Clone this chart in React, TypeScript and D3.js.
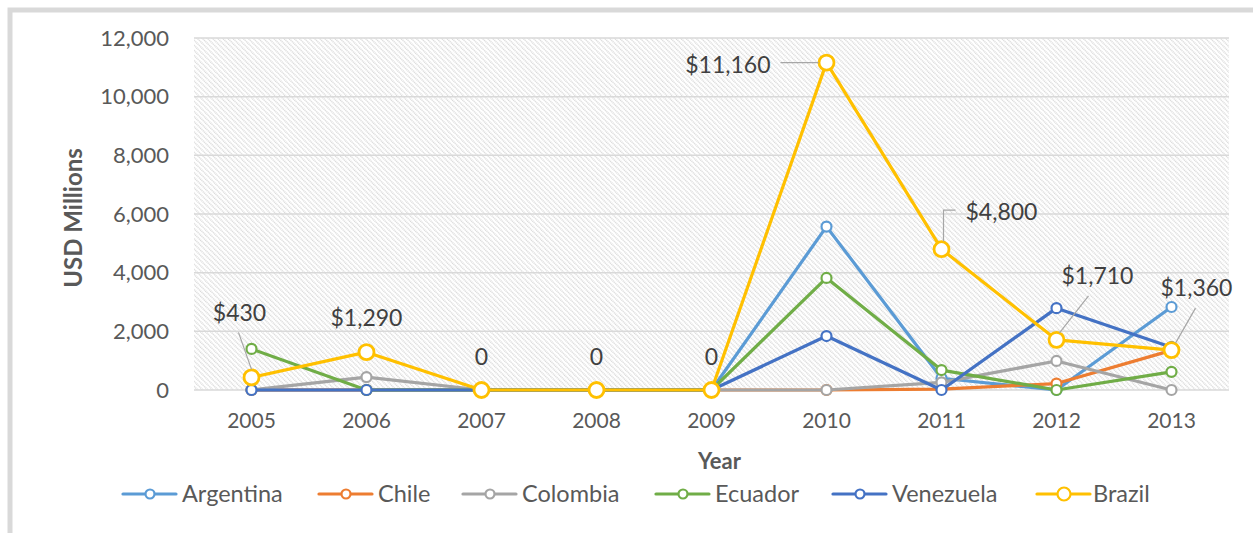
import * as d3 from "d3";
import React, { useEffect, useRef } from "react";

const years = ["2005", "2006", "2007", "2008", "2009", "2010", "2011", "2012", "2013"];
const argentina = [0, 0, 0, 0, 0, 5570, 400, 0, 2830];
const chile = [0, 0, 0, 0, 0, 0, 30, 220, 1350];
const colombia = [0, 440, 0, 0, 0, 0, 260, 990, 0];
const ecuador = [1400, 0, 0, 0, 0, 3820, 680, 0, 620];
const venezuela = [0, 0, 0, 0, 0, 1840, 0, 2790, 1460];
const brazil = [430, 1290, 0, 0, 0, 11160, 4800, 1710, 1360];
const brazilLabels = ["$430", "$1,290", "0", "0", "0", "$11,160", "$4,800", "$1,710", "$1,360"];
const yTicks = [0, 2000, 4000, 6000, 8000, 10000, 12000];

const series = [
  { name: "Argentina", values: argentina, color: "#5b9bd5" },
  { name: "Chile", values: chile, color: "#ed7d31" },
  { name: "Colombia", values: colombia, color: "#a5a5a5" },
  { name: "Ecuador", values: ecuador, color: "#70ad47" },
  { name: "Venezuela", values: venezuela, color: "#4472c4" },
  { name: "Brazil", values: brazil, color: "#ffc000" },
];

// where each Brazil label sits relative to its marker (and its leader line)
const labelLayout = [
  { dx: -12, dy: -64, anchor: "middle", leader: [[-13, -45], [0, -8]] },
  { dx: 0, dy: -34, anchor: "middle", leader: null },
  { dx: 0, dy: -33, anchor: "middle", leader: null },
  { dx: 0, dy: -33, anchor: "middle", leader: null },
  { dx: 0, dy: -33, anchor: "middle", leader: null },
  { dx: -56, dy: 2, anchor: "end", leader: [[-46, 0], [-8, 0]] },
  { dx: 24, dy: -37, anchor: "start", leader: [[14, -39], [2, -39], [2, -8]] },
  { dx: 41, dy: -64, anchor: "middle", leader: [[32, -44], [3, -7]] },
  { dx: 25, dy: -62, anchor: "middle", leader: [[24, -42], [4, -7]] },
];

const FONT = "Lato, 'Open Sans', sans-serif";
const TEXT = "#595959";

export default function App() {
  const ref = useRef<SVGSVGElement>(null);

  useEffect(() => {
    const width = 1253, height = 533;
    const margin = { top: 38, right: 24, bottom: 143, left: 194 };

    const svg = d3.select(ref.current);
    svg.selectAll("*").remove();
    svg.attr("width", width).attr("height", height);

    const x = d3
      .scalePoint()
      .domain(years)
      .range([margin.left, width - margin.right])
      .padding(0.5);
    const y = d3
      .scaleLinear()
      .domain([0, 12000])
      .range([height - margin.bottom, margin.top]);

    // hatch pattern
    const defs = svg.append("defs");
    const pat = defs
      .append("pattern")
      .attr("id", "hatch")
      .attr("patternUnits", "userSpaceOnUse")
      .attr("width", 3.6)
      .attr("height", 3.6)
      .attr("patternTransform", "rotate(-45)");
    pat
      .append("line")
      .attr("x1", 0.8).attr("y1", 0)
      .attr("x2", 0.8).attr("y2", 3.6)
      .attr("stroke", "#cfcfcf")
      .attr("stroke-width", 1.2)
      .attr("stroke-dasharray", "1.2 0.6");

    // outer frame
    svg
      .append("rect")
      .attr("x", 10)
      .attr("y", 10)
      .attr("width", 1300)
      .attr("height", 600)
      .attr("fill", "white")
      .attr("stroke", "#d9d9d9")
      .attr("stroke-width", 5);

    // plot area
    svg
      .append("rect")
      .attr("x", margin.left)
      .attr("y", margin.top)
      .attr("width", width - margin.right - margin.left)
      .attr("height", height - margin.bottom - margin.top)
      .attr("fill", "url(#hatch)");

    // grid lines
    yTicks.forEach((t) =>
      svg
        .append("line")
        .attr("x1", margin.left)
        .attr("x2", width - margin.right)
        .attr("y1", y(t))
        .attr("y2", y(t))
        .attr("stroke", "#d9d9d9")
        .attr("stroke-width", 1.5)
    );

    // y tick labels
    yTicks.forEach((t) =>
      svg
        .append("text")
        .attr("x", margin.left - 25)
        .attr("y", y(t))
        .attr("dy", "0.35em")
        .attr("text-anchor", "end")
        .attr("font-family", FONT)
        .attr("font-size", 22)
        .attr("fill", TEXT)
        .text(d3.format(",")(t))
    );

    // x tick labels
    years.forEach((yr) =>
      svg
        .append("text")
        .attr("x", x(yr)!)
        .attr("y", y(0) + 38)
        .attr("text-anchor", "middle")
        .attr("font-family", FONT)
        .attr("font-size", 21)
        .attr("fill", TEXT)
        .text(yr)
    );

    // axis titles
    svg
      .append("text")
      .attr("transform", `translate(82, ${(y(0) + y(12000)) / 2 + 4}) rotate(-90)`)
      .attr("text-anchor", "middle")
      .attr("font-family", FONT)
      .attr("font-weight", "bold")
      .attr("font-size", 24)
      .attr("fill", TEXT)
      .text("USD Millions");
    svg
      .append("text")
      .attr("x", (margin.left + width - margin.right) / 2 + 8)
      .attr("y", 469)
      .attr("text-anchor", "middle")
      .attr("font-family", FONT)
      .attr("font-weight", "bold")
      .attr("font-size", 22)
      .attr("fill", TEXT)
      .text("Year");

    const line = d3
      .line<number>()
      .x((d, i) => x(years[i])!)
      .y((d) => y(d));

    // series lines and markers
    series.forEach((s) => {
      const big = s.name === "Brazil";
      svg
        .append("path")
        .datum(s.values)
        .attr("d", line)
        .attr("fill", "none")
        .attr("stroke", s.color)
        .attr("stroke-width", 3.2)
        .attr("stroke-linejoin", "round");
      svg
        .selectAll(null)
        .data(s.values)
        .enter()
        .append("circle")
        .attr("cx", (d, i) => x(years[i])!)
        .attr("cy", (d) => y(d))
        .attr("r", big ? 7.5 : 5)
        .attr("fill", "white")
        .attr("stroke", s.color)
        .attr("stroke-width", big ? 2.8 : 2.2);
    });

    // Brazil data labels
    brazil.forEach((v, i) => {
      const cx = x(years[i])!;
      const cy = y(v);
      const lay = labelLayout[i];
      if (lay.leader) {
        svg
          .append("path")
          .attr("d", d3.line()(lay.leader.map((p) => [cx + p[0], cy + p[1]] as [number, number])))
          .attr("fill", "none")
          .attr("stroke", "#a6a6a6")
          .attr("stroke-width", 1.2);
      }
      svg
        .append("text")
        .attr("x", cx + lay.dx)
        .attr("y", cy + lay.dy)
        .attr("dy", "0.35em")
        .attr("text-anchor", lay.anchor)
        .attr("font-family", FONT)
        .attr("font-size", 23)
        .attr("fill", "#404040")
        .text(brazilLabels[i]);
    });

    // legend
    const legendX = [123, 319, 463, 656, 833, 1037];
    const ly = 494;
    series.forEach((s, i) => {
      const big = s.name === "Brazil";
      const g = svg.append("g").attr("transform", `translate(${legendX[i]}, ${ly})`);
      g.append("line")
        .attr("x1", 0)
        .attr("x2", 53)
        .attr("stroke", s.color)
        .attr("stroke-width", 3.2)
        .attr("stroke-linecap", "round");
      g.append("circle")
        .attr("cx", 27)
        .attr("r", big ? 6.5 : 4.5)
        .attr("fill", "white")
        .attr("stroke", s.color)
        .attr("stroke-width", 2.2);
      g.append("text")
        .attr("x", big ? 56 : 59)
        .attr("dy", "0.35em")
        .attr("font-family", FONT)
        .attr("font-size", 23.5)
        .attr("fill", TEXT)
        .text(s.name);
    });
  }, []);

  return (
    <div style={{ position: "absolute", left: 0, top: 0 }}>
      <svg ref={ref}></svg>
    </div>
  );
}
